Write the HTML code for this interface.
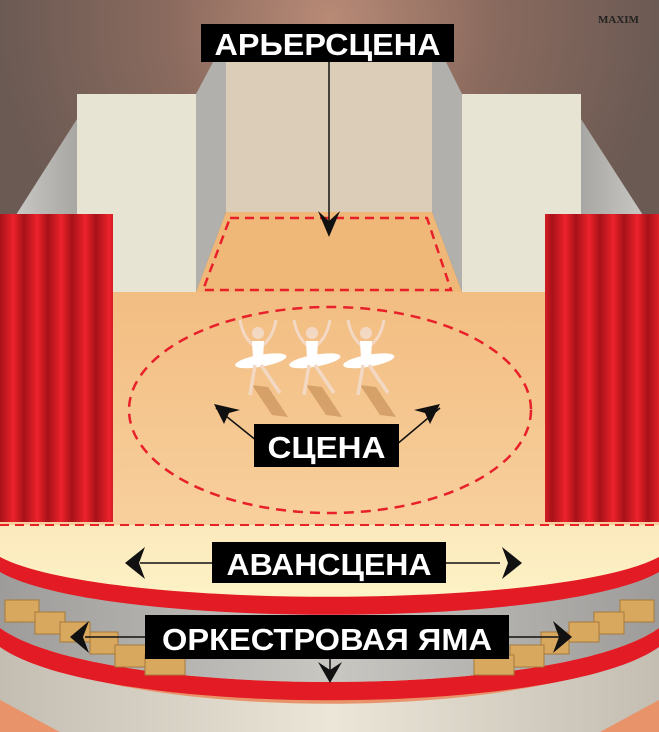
<!DOCTYPE html>
<html><head><meta charset="utf-8"><style>
html,body{margin:0;padding:0;background:#6e5a52}
svg{display:block}
text{font-family:"Liberation Sans",sans-serif;font-weight:bold;fill:#fff}
</style></head><body>
<svg width="659" height="732" viewBox="0 0 659 732" xmlns="http://www.w3.org/2000/svg">
<defs>
<radialGradient id="bg" cx="330" cy="20" r="330" gradientUnits="userSpaceOnUse">
<stop offset="0" stop-color="#b88a76"/><stop offset="0.5" stop-color="#8a6a5e"/><stop offset="1" stop-color="#6b5a53"/></radialGradient>
<linearGradient id="curt" x1="0" x2="1" y1="0" y2="0" spreadMethod="repeat" gradientUnits="userSpaceOnUse" gradientTransform="scale(24 1)">
<stop offset="0" stop-color="#a81219"/><stop offset="0.55" stop-color="#ec222b"/><stop offset="1" stop-color="#a81219"/></linearGradient>
<linearGradient id="floor" x1="0" y1="292" x2="0" y2="525" gradientUnits="userSpaceOnUse">
<stop offset="0" stop-color="#f2bd82"/><stop offset="1" stop-color="#f8cf9c"/></linearGradient>
<linearGradient id="cream" x1="0" y1="525" x2="0" y2="600" gradientUnits="userSpaceOnUse">
<stop offset="0" stop-color="#fbe9bd"/><stop offset="1" stop-color="#fdf3c6"/></linearGradient>
<linearGradient id="sideL" x1="0" x2="1"><stop offset="0" stop-color="#d0d0cc"/><stop offset="1" stop-color="#a8a6a2"/></linearGradient>
<linearGradient id="sideR" x1="1" x2="0"><stop offset="0" stop-color="#d0d0cc"/><stop offset="1" stop-color="#a8a6a2"/></linearGradient>
<linearGradient id="pit" x1="0" x2="1"><stop offset="0" stop-color="#9e9c9a"/><stop offset="0.5" stop-color="#c9c7c2"/><stop offset="1" stop-color="#9e9c9a"/></linearGradient>
<linearGradient id="low" x1="0" x2="1"><stop offset="0" stop-color="#c4bdb2"/><stop offset="0.5" stop-color="#ebe6d8"/><stop offset="1" stop-color="#c4bdb2"/></linearGradient>
<g id="dancer">
<path d="M-6 40 L14 70 L30 72 L10 42Z" fill="#c9915a" opacity="0.7"/>
<path d="M-18 -25 Q-15 -8 -5 0 M18 -25 Q15 -8 5 0" stroke="#f3d9c4" stroke-width="3" fill="none"/>
<circle cx="0" cy="-12" r="6" fill="#f3d9c4"/>
<path d="M-6 -4 L6 -4 L5 14 L-5 14Z" fill="#fff"/>
<ellipse cx="0" cy="16" rx="26" ry="6" fill="#fff" transform="rotate(-10)"/>
<path d="M-3 20 L-8 50 M3 20 L22 48" stroke="#f3d9c4" stroke-width="3.5" fill="none"/>
</g>
</defs>
<rect width="659" height="732" fill="url(#bg)"/>
<text x="598" y="23" style="font-family:'Liberation Serif',serif;font-size:11px;fill:#222;font-weight:bold">MAXIM</text>
<polygon points="0,240 77,119 77,300 0,300" fill="url(#sideL)"/>
<polygon points="659,240 581,119 581,300 659,300" fill="url(#sideR)"/>
<rect x="77" y="94" width="119" height="210" fill="#e8e4d4"/>
<rect x="462" y="94" width="119" height="210" fill="#e8e4d4"/>
<polygon points="196,94 213,62 226,62 226,212 196,292" fill="#b2b0ac"/>
<polygon points="462,94 446,62 432,62 432,212 462,292" fill="#b2b0ac"/>
<rect x="226" y="62" width="206" height="150" fill="#dccdb9"/>
<polygon points="226,212 432,212 462,292 196,292" fill="#f0b878"/>
<polygon points="230,218 427,218 451,290 203,290" fill="none" stroke="#e8202a" stroke-width="2.5" stroke-dasharray="9,6"/>
<rect x="0" y="292" width="659" height="240" fill="url(#floor)"/>
<line x1="329" y1="62" x2="329" y2="225" stroke="#111" stroke-width="1.5"/>
<path d="M318 211 L329 221 L340 211 L329 237Z" fill="#111"/>
<rect x="0" y="214" width="113" height="308" fill="url(#curt)"/>
<rect x="545" y="214" width="114" height="308" fill="url(#curt)"/>
<ellipse cx="330" cy="410" rx="201" ry="103" fill="none" stroke="#e8202a" stroke-width="2.5" stroke-dasharray="10,7"/>
<use href="#dancer" x="258" y="345"/>
<use href="#dancer" x="312" y="345"/>
<use href="#dancer" x="366" y="345"/>
<!-- lower area -->
<rect x="0" y="525" width="659" height="207" fill="#e8936a"/>
<path d="M0 640 C100 725 559 725 659 640 L659 700 C600 732 600 732 600 732 L60 732 C60 732 60 732 0 700Z" fill="url(#low)"/>
<path d="M0 628 C100 700 559 700 659 628 L659 647 C559 718 100 718 0 647Z" fill="#e21b24"/>
<path d="M0 560 L659 560 L659 628 C559 700 100 700 0 628Z" fill="url(#pit)"/>
<g fill="#d8a85e" stroke="#a77a3a" stroke-width="1">
<rect x="5" y="600" width="34" height="22"/><rect x="35" y="612" width="30" height="22"/><rect x="60" y="622" width="30" height="20"/><rect x="90" y="632" width="28" height="22"/><rect x="115" y="645" width="34" height="22"/><rect x="145" y="655" width="40" height="20"/>
<rect x="620" y="600" width="34" height="22"/><rect x="594" y="612" width="30" height="22"/><rect x="569" y="622" width="30" height="20"/><rect x="541" y="632" width="28" height="22"/><rect x="510" y="645" width="34" height="22"/><rect x="474" y="655" width="40" height="20"/>
</g>
<path d="M0 628 C100 700 559 700 659 628 L659 647 C559 718 100 718 0 647Z" fill="#e21b24" opacity="0"/>
<path d="M0 525 L659 525 L659 572 C559 629 100 629 0 572Z" fill="#e21b24"/>
<path d="M0 525 L659 525 L659 557 C559 610 100 610 0 557Z" fill="url(#cream)"/>
<line x1="0" y1="525" x2="659" y2="525" stroke="#e8202a" stroke-width="2" stroke-dasharray="9,6"/>
<!-- labels -->
<rect x="201" y="24" width="253" height="38" fill="#000"/>
<text x="327.5" y="55" font-size="31" text-anchor="middle" textLength="226" lengthAdjust="spacingAndGlyphs">АРЬЕРСЦЕНА</text>
<line x1="216" y1="408" x2="262" y2="445" stroke="#111" stroke-width="1.5"/>
<path d="M214 404 L240 410 L229 413 L224 424Z" fill="#111"/>
<line x1="440" y1="408" x2="396" y2="445" stroke="#111" stroke-width="1.5"/>
<path d="M440 404 L414 410 L425 413 L430 424Z" fill="#111"/>
<rect x="254" y="424" width="145" height="43" fill="#000"/>
<text x="326.5" y="458" font-size="31" text-anchor="middle" textLength="118" lengthAdjust="spacingAndGlyphs">СЦЕНА</text>
<line x1="140" y1="563" x2="500" y2="563" stroke="#111" stroke-width="1.5"/>
<path d="M125 563 L145 547 L139 563 L145 579Z" fill="#111"/>
<path d="M522 563 L502 547 L508 563 L502 579Z" fill="#111"/>
<rect x="212" y="542" width="234" height="41" fill="#000"/>
<text x="329" y="575" font-size="31" text-anchor="middle" textLength="205" lengthAdjust="spacingAndGlyphs">АВАНСЦЕНА</text>
<line x1="85" y1="637" x2="560" y2="637" stroke="#111" stroke-width="1.5"/>
<line x1="330" y1="655" x2="330" y2="675" stroke="#111" stroke-width="1.5"/>
<path d="M70 637 L89 621 L83 637 L89 653Z" fill="#111"/>
<path d="M572 637 L553 621 L559 637 L553 653Z" fill="#111"/>
<path d="M318 662 L330 670 L342 662 L330 683Z" fill="#111"/>
<rect x="145" y="615" width="364" height="44" fill="#000"/>
<text x="327" y="650" font-size="31" text-anchor="middle" textLength="330" lengthAdjust="spacingAndGlyphs">ОРКЕСТРОВАЯ ЯМА</text>
</svg>
</body></html>
